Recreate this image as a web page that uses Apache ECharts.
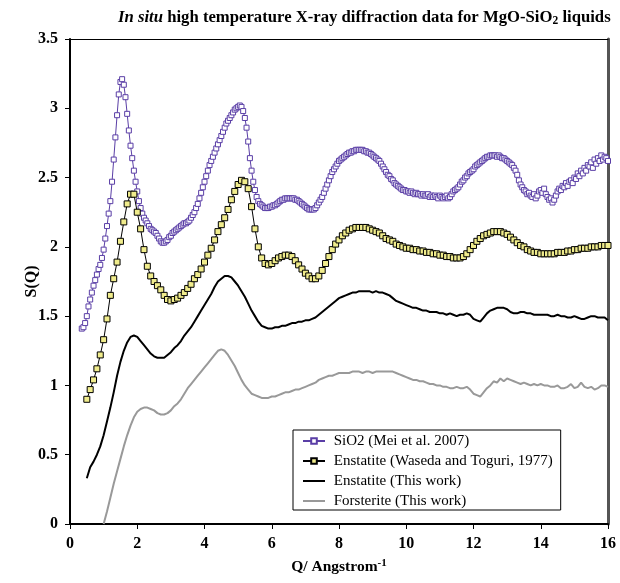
<!DOCTYPE html>
<html>
<head>
<meta charset="utf-8">
<script src="https://cdn.jsdelivr.net/npm/echarts@6/dist/echarts.min.js"></script>
<style>html,body{margin:0;padding:0;background:#fff;}#c{width:620px;height:583px;}</style>
</head>
<body>
<div id="c"></div>
<script>
// x ticks
var xTicks = [0, 2, 4, 6, 8, 10, 12, 14, 16];
var yTicks = [0, 0.5, 1, 1.5, 2, 2.5, 3, 3.5];
var seriesNames = ['SiO2 (Mei et al. 2007)', 'Enstatite (Waseda and Toguri, 1977)', 'Enstatite (This work)', 'Forsterite (This work)'];

// SiO2 (Mei et al. 2007): Q from 0.35, step 0.05
var sio2Start = 0.35, sio2Step = 0.05;
var sio2S = [
  1.41,1.42,1.45,1.50,1.57,1.62,1.67,1.72,1.76,1.80,1.84,1.87,1.92,
  1.98,2.06,2.15,2.24,2.33,2.47,2.63,2.79,2.95,3.10,3.19,3.21,3.17,3.08,2.96,2.84,2.73,2.64,2.55,2.47,
  2.40,2.33,2.28,2.24,2.21,2.19,2.17,2.15,2.13,2.12,2.11,2.10,2.08,2.06,2.04,2.03,2.03,2.04,2.05,2.07,
  2.08,2.10,2.11,2.12,2.13,2.14,2.15,2.16,2.17,2.17,2.18,2.19,2.21,2.23,2.25,2.28,2.31,2.35,2.39,2.43,
  2.47,2.51,2.55,2.59,2.62,2.65,2.68,2.71,2.74,2.77,2.80,2.83,2.86,2.89,2.91,2.93,2.95,2.97,2.99,3.00,
  3.01,3.02,3.01,2.98,2.93,2.86,2.76,2.64,2.55,2.47,2.41,2.36,2.33,2.31,2.30,2.29,2.28,2.28,2.28,2.29,
  2.29,2.30,2.30,2.31,2.32,2.33,2.34,2.34,2.35,2.35,2.35,2.35,2.35,2.35,2.34,2.34,2.33,2.32,2.31,2.30,
  2.29,2.28,2.27,2.27,2.27,2.27,2.28,2.30,2.32,2.34,2.36,2.39,2.42,2.45,2.48,2.51,2.54,2.56,2.58,2.60,
  2.62,2.63,2.64,2.65,2.66,2.67,2.68,2.68,2.69,2.69,2.70,2.70,2.70,2.70,2.70,2.69,2.69,2.68,2.68,2.67,
  2.66,2.65,2.64,2.63,2.62,2.60,2.58,2.56,2.54,2.52,2.51,2.49,2.48,2.46,2.45,2.44,2.43,2.42,2.41,2.41,
  2.40,2.40,2.39,2.40,2.39,2.38,2.39,2.38,2.38,2.37,2.38,2.37,2.37,2.38,2.36,2.37,2.36,2.37,2.36,2.35,
  2.37,2.36,2.35,2.36,2.37,2.35,2.36,2.38,2.40,2.41,2.42,2.43,2.45,2.47,2.48,2.50,2.51,2.53,2.54,2.55,
  2.56,2.58,2.59,2.60,2.61,2.62,2.63,2.64,2.65,2.65,2.66,2.66,2.66,2.66,2.65,2.66,2.65,2.64,2.64,2.63,
  2.62,2.61,2.60,2.59,2.57,2.55,2.52,2.48,2.45,2.43,2.41,2.40,2.38,2.39,2.37,2.36,2.38,2.35,2.37,2.40,
  2.41,2.39,2.42,2.38,2.36,2.34,2.35,2.32,2.34,2.37,2.40,2.42,2.41,2.44,2.43,2.46,2.44,2.47,2.48,2.46,
  2.50,2.49,2.53,2.51,2.55,2.53,2.57,2.55,2.59,2.58,2.61,2.57,2.63,2.60,2.64,2.62,2.66,2.63,2.65,2.64,
  2.62
];

// Enstatite (Waseda and Toguri, 1977): Q from 0.5, step 0.1
var wasedaStart = 0.5, wasedaStep = 0.1;
var wasedaS = [
  0.90,0.97,1.04,1.12,1.22,
  1.33,1.48,1.65,1.77,1.89,2.04,2.18,2.31,2.38,2.38,
  2.25,2.13,1.98,1.86,1.79,1.75,1.72,1.69,1.65,1.62,
  1.61,1.62,1.63,1.65,1.67,1.70,1.73,1.77,1.80,1.84,
  1.89,1.94,1.99,2.05,2.11,2.16,2.21,2.27,2.34,2.40,
  2.45,2.48,2.47,2.42,2.29,2.13,2.00,1.92,1.88,1.87,
  1.88,1.90,1.92,1.93,1.94,1.94,1.93,1.90,1.87,1.84,
  1.81,1.79,1.77,1.77,1.79,1.83,1.88,1.93,1.98,2.02,
  2.05,2.08,2.10,2.12,2.13,2.14,2.14,2.14,2.14,2.13,
  2.12,2.11,2.10,2.08,2.06,2.05,2.04,2.02,2.01,2.00,
  1.99,1.99,1.98,1.98,1.97,1.97,1.96,1.96,1.95,1.95,
  1.94,1.94,1.93,1.93,1.92,1.92,1.92,1.93,1.95,1.98,
  2.01,2.04,2.06,2.08,2.09,2.10,2.11,2.11,2.11,2.10,
  2.09,2.07,2.05,2.03,2.01,2.00,1.98,1.97,1.96,1.96,
  1.95,1.95,1.95,1.95,1.95,1.96,1.96,1.96,1.97,1.97,
  1.98,1.98,1.99,1.99,1.99,2.00,2.00,2.00,2.01,2.01,
  2.01
];

// Enstatite (This work): Q from 0.5, step 0.1
var enstStart = 0.5, enstStep = 0.1;
var enstS = [
  0.33,0.41,0.45,0.50,0.56,
  0.64,0.74,0.84,0.95,1.07,1.17,1.25,1.31,1.35,1.36,
  1.35,1.32,1.29,1.26,1.23,1.21,1.20,1.20,1.20,1.22,
  1.24,1.27,1.29,1.32,1.36,1.39,1.42,1.46,1.50,1.54,
  1.58,1.62,1.66,1.71,1.75,1.77,1.79,1.79,1.78,1.75,
  1.72,1.68,1.64,1.59,1.54,1.50,1.46,1.43,1.42,1.41,
  1.41,1.42,1.42,1.43,1.43,1.44,1.45,1.45,1.46,1.46,
  1.47,1.47,1.48,1.49,1.51,1.53,1.55,1.57,1.59,1.61,
  1.63,1.64,1.65,1.66,1.67,1.67,1.68,1.68,1.68,1.68,
  1.67,1.68,1.67,1.67,1.66,1.65,1.63,1.61,1.60,1.59,
  1.58,1.57,1.56,1.56,1.55,1.54,1.54,1.53,1.53,1.53,
  1.52,1.52,1.51,1.52,1.51,1.50,1.51,1.51,1.52,1.51,
  1.48,1.47,1.46,1.49,1.52,1.54,1.55,1.56,1.56,1.56,
  1.55,1.53,1.52,1.52,1.53,1.53,1.52,1.52,1.51,1.51,
  1.51,1.51,1.51,1.50,1.50,1.51,1.50,1.50,1.49,1.49,
  1.50,1.49,1.48,1.48,1.49,1.50,1.50,1.49,1.49,1.49,
  1.47
];

// Forsterite (This work): Q from 1.0, step 0.1
var forsStart = 1.0, forsStep = 0.1;
var forsS = [
  0.00,0.09,0.19,0.29,0.38,0.47,0.56,0.64,0.71,0.77,
  0.81,0.83,0.84,0.84,0.83,0.82,0.80,0.79,0.79,0.80,
  0.82,0.85,0.87,0.90,0.94,0.98,1.01,1.04,1.07,1.10,
  1.13,1.16,1.19,1.22,1.25,1.26,1.25,1.22,1.18,1.14,
  1.09,1.04,1.00,0.97,0.94,0.93,0.92,0.91,0.91,0.91,
  0.92,0.92,0.93,0.94,0.95,0.95,0.96,0.97,0.97,0.98,
  0.99,1.00,1.01,1.02,1.04,1.05,1.06,1.07,1.07,1.08,
  1.09,1.09,1.09,1.09,1.10,1.10,1.10,1.09,1.10,1.10,
  1.09,1.10,1.10,1.10,1.10,1.10,1.10,1.09,1.08,1.07,
  1.06,1.05,1.04,1.04,1.03,1.03,1.02,1.01,1.01,1.00,
  1.00,0.99,0.99,0.98,0.98,0.99,0.98,0.98,0.99,0.97,
  0.94,0.93,0.92,0.95,0.98,1.00,1.03,1.02,1.05,1.03,
  1.05,1.04,1.03,1.02,1.01,1.02,1.01,1.00,1.01,1.00,
  1.01,1.00,1.00,0.99,0.99,1.00,0.98,0.98,0.99,1.01,
  0.98,0.99,1.02,0.99,0.98,0.99,0.97,0.98,1.00,1.00,
  0.99
];

function pairs(start, step, vals) {
  return vals.map(function (v, i) { return [+(start + i * step).toFixed(3), v]; });
}

var FONT = 'Liberation Serif';
var LINE_ICON = 'path://M0,0H22V2H0Z';
var chart = echarts.init(document.getElementById('c'), null, { renderer: 'canvas' });
chart.setOption({
  animation: false,
  backgroundColor: '#fff',
  title: {
    left: 113, top: 4,
    text: '{i|In situ}{b| high temperature X-ray diffraction data for MgO-SiO}{s|2}{b| liquids}',
    textStyle: {
      rich: {
        i: { fontFamily: FONT, fontSize: 16.7, fontWeight: 'bold', fontStyle: 'italic', color: '#000', lineHeight: 18 },
        b: { fontFamily: FONT, fontSize: 16.7, fontWeight: 'bold', color: '#000', lineHeight: 18 },
        s: { fontFamily: FONT, fontSize: 11.5, fontWeight: 'bold', color: '#000', verticalAlign: 'bottom', padding: [9, 0, 0, 0], lineHeight: 12 }
      }
    }
  },
  legend: {
    orient: 'vertical',
    left: 293, top: 430,
    backgroundColor: '#fff',
    borderColor: '#000', borderWidth: 1,
    padding: [3, 8, 1, 9],
    itemGap: 4, itemWidth: 22, itemHeight: 7,
    textStyle: { fontFamily: FONT, fontSize: 15, color: '#000', lineHeight: 16 },
    formatter: function (n) { return ' ' + n; },
    data: [
      { name: seriesNames[0] },
      { name: seriesNames[1] },
      { name: seriesNames[2], icon: LINE_ICON },
      { name: seriesNames[3], icon: LINE_ICON }
    ]
  },
  grid: { left: 70, right: 12, top: 39, bottom: 59, containLabel: false },
  xAxis: [{
    type: 'value', min: 0, max: 16, interval: 2,
    name: '{q|Q/ Angstrom}{sup|-1}', nameLocation: 'middle', nameGap: 34,
    nameMoveOverlap: false,
    nameTextStyle: {
      rich: {
        q: { fontFamily: FONT, fontSize: 15.5, fontWeight: 'bold', color: '#000', lineHeight: 18 },
        sup: { fontFamily: FONT, fontSize: 11, fontWeight: 'bold', color: '#000', verticalAlign: 'top', padding: [0, 0, 8, 0], lineHeight: 11 }
      }
    },
    axisLine: { lineStyle: { color: '#000', width: 2 } },
    axisTick: { show: true, inside: false, length: 5, lineStyle: { color: '#000', width: 1 } },
    axisLabel: { fontFamily: FONT, fontSize: 16, fontWeight: 'bold', color: '#000', margin: 12,
      formatter: function (v) { return xTicks.indexOf(v) >= 0 ? String(v) : ''; } },
    splitLine: { show: false }
  }, {
    type: 'value', min: 0, max: 16, position: 'top',
    axisLine: { show: true, onZero: false, lineStyle: { color: '#000', width: 1 } },
    axisTick: { show: false }, axisLabel: { show: false }, splitLine: { show: false }
  }],
  yAxis: [{
    type: 'value', min: 0, max: 3.5, interval: 0.5,
    name: 'S(Q)', nameLocation: 'middle', nameGap: 30, nameRotate: 90,
    nameMoveOverlap: false,
    nameTextStyle: { fontFamily: FONT, fontSize: 16, fontWeight: 'bold', color: '#000' },
    axisLine: { show: true, lineStyle: { color: '#000', width: 2 } },
    axisTick: { show: true, inside: false, length: 5, lineStyle: { color: '#000', width: 1 } },
    axisLabel: { fontFamily: FONT, fontSize: 16, fontWeight: 'bold', color: '#000', margin: 12,
      formatter: function (v) { return yTicks.indexOf(v) >= 0 ? String(v) : ''; } },
    splitLine: { show: false }
  }, {
    type: 'value', min: 0, max: 3.5, position: 'right',
    axisLine: { show: true, onZero: false, lineStyle: { color: '#555', width: 3 } },
    axisTick: { show: false }, axisLabel: { show: false }, splitLine: { show: false }
  }],
  series: [{
    name: seriesNames[0], type: 'line',
    data: pairs(sio2Start, sio2Step, sio2S),
    symbol: 'rect', symbolSize: 5, showAllSymbol: true,
    lineStyle: { color: '#5a3ea6', width: 1 },
    itemStyle: { color: '#fff', borderColor: '#5a3ea6', borderWidth: 1 },
    z: 2
  }, {
    name: seriesNames[1], type: 'line',
    data: pairs(wasedaStart, wasedaStep, wasedaS),
    symbol: 'rect', symbolSize: 6, showAllSymbol: true,
    lineStyle: { color: '#000', width: 1 },
    itemStyle: { color: '#f0ec8c', borderColor: '#000', borderWidth: 1 },
    z: 3
  }, {
    name: seriesNames[2], type: 'line',
    data: pairs(enstStart, enstStep, enstS),
    symbol: 'none', showSymbol: false,
    lineStyle: { color: '#000', width: 2 },
    itemStyle: { color: '#000' },
    z: 4
  }, {
    name: seriesNames[3], type: 'line',
    data: pairs(forsStart, forsStep, forsS),
    symbol: 'none', showSymbol: false,
    lineStyle: { color: '#999', width: 2 },
    itemStyle: { color: '#999' },
    z: 4
  }]
});
</script>
</body>
</html>
